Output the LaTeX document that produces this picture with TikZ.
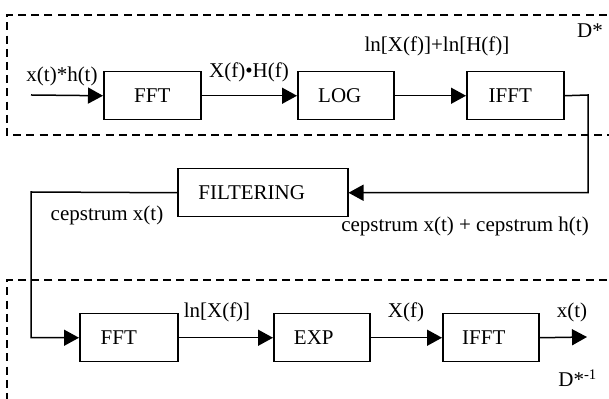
\documentclass[tikz,border=0pt]{standalone}
\usepackage{fontspec}
\setmainfont{Liberation Serif}
\usetikzlibrary{arrows.meta}
\begin{document}
\begin{tikzpicture}[x=0.5pt,y=-0.5pt,
  every node/.style={font=\fontsize{10.5}{12}\selectfont},
  blk/.style={draw,line width=0.75pt,minimum height=24pt,inner sep=0pt,anchor=north west},
  lbl/.style={anchor=base,inner sep=0pt},
  conn/.style={line width=0.75pt},
  arr/.style={conn,-{Triangle[length=7.5pt,width=8pt]}},
  dsh/.style={line width=0.75pt,dash pattern=on 4pt off 2.6pt}]
\useasboundingbox (0,0) rectangle (609,399);
% dashed frames
\draw[dsh] (620,15) -- (7,15) -- (7,135) -- (620,135);
\draw[dsh] (620,280) -- (7,280) -- (7,410);
% top row
\node[blk,minimum width=48.5pt] (fft1) at (103,71) {FFT};
\node[blk,minimum width=48pt] (log) at (297,71) {LOG\kern6pt};
\node[blk,minimum width=48.5pt] (ifft1) at (466,71) {IFFT\kern5pt};
\node[blk,minimum width=85pt] (filt) at (177,168) {FILTERING\kern11pt};
% bottom row
\node[blk,minimum width=49pt] (fft2) at (79,313) {FFT\kern10pt};
\node[blk,minimum width=48pt] (exp) at (273,313) {EXP\kern8pt};
\node[blk,minimum width=48pt] (ifft2) at (442,313) {IFFT\kern7pt};
% coordinates
\coordinate (in) at (31,95);
\coordinate (c1) at (588,95);
\coordinate (c2) at (31,192);
\coordinate (out) at (587,337);
% connectors
\draw[arr] (in) -- (fft1.west);
\draw[arr] (fft1.east) -- (log.west);
\draw[arr] (log.east) -- (ifft1.west);
\draw[arr] (ifft1.east) -- (c1) |- (filt.east);
\draw[arr] (filt.west) -- (c2) |- (fft2.west);
\draw[arr] (fft2.east) -- (exp.west);
\draw[arr] (exp.east) -- (ifft2.west);
\draw[arr] (ifft2.east) -- (out);
% labels
\node[lbl] (l1) at (62,82) {x(t)*h(t)};
\node[lbl] (l2) at (249,78) {X(f)•H(f)};
\node[lbl] (l3) at (437,52) {ln[X(f)]+ln[H(f)]};
\node[lbl] (l4) at (590,38) {D*};
\node[lbl] (l5) at (107,221) {cepstrum x(t)};
\node[lbl] (l6) at (465,232) {cepstrum x(t) + cepstrum h(t)};
\node[lbl] (l7) at (217,318) {ln[X(f)]};
\node[lbl] (l8) at (406,318) {X(f)};
\node[lbl] (l9) at (572,318) {x(t)};
\node[lbl,anchor=base west] (l10) at (558,387) {D*\textsuperscript{-1}};
\end{tikzpicture}
\end{document}
